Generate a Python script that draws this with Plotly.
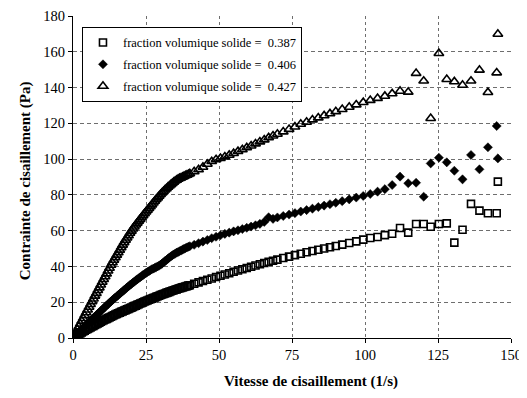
import plotly.graph_objects as go

shear_rate = [
    0, 0.5, 1, 1.5, 2, 2.5, 3, 3.5, 4, 4.5,
    5, 5.5, 6, 6.5, 7, 7.5, 8, 8.5, 9, 9.5,
    10, 10.5, 11, 11.5, 12, 12.5, 13, 13.5, 14, 14.5,
    15, 15.5, 16, 16.5, 17, 17.5, 18, 18.5, 19, 19.5,
    20, 20.5, 21, 21.5, 22, 22.5, 23, 23.5, 24, 24.5,
    25, 25.5, 26, 26.5, 27, 27.5, 28, 28.5, 29, 29.5,
    30, 30.5, 31, 31.5, 32, 32.5, 33, 33.5, 34, 34.5,
    35, 35.5, 36, 36.5, 37, 37.5, 38, 38.5, 39, 39.5,
    40, 41.5, 43, 44.5, 46, 47.5, 49, 50.5, 52, 53.5,
    55, 56.5, 58, 59.5, 61, 62.5, 64, 65.5, 67, 68.5,
    70, 72, 74, 76, 78, 80, 82, 84, 86, 88,
    90, 92.2, 94.6, 97, 99.4, 101.8, 104.3, 106.8, 109.3, 112,
    114.8, 117.5, 120.1, 122.5, 125.3, 128, 130.6, 133.4, 136.3, 139.2,
    142.1, 145.1, 145.5,
]

stress_0387 = [
    0, 0.6, 1.1, 1.6, 2.1, 2.6, 3.1, 3.6, 4.1, 4.6,
    5, 5.5, 5.9, 6.4, 6.8, 7.3, 7.7, 8.2, 8.6, 9.1,
    9.5, 9.9, 10.3, 10.7, 11.1, 11.5, 11.9, 12.3, 12.7, 13.1,
    13.5, 13.8, 14.2, 14.6, 14.9, 15.3, 15.6, 16.0, 16.3, 16.7,
    17, 17.4, 17.8, 18.1, 18.5, 18.9, 19.3, 19.6, 20, 20.4,
    20.7, 21.0, 21.4, 21.7, 22, 22.3, 22.6, 23.0, 23.3, 23.6,
    24, 24.3, 24.6, 24.9, 25.2, 25.5, 25.8, 26.1, 26.4, 26.7,
    27, 27.2, 27.5, 27.8, 28, 28.3, 28.5, 28.8, 29, 29.3,
    29.5, 30.3, 31.1, 31.9, 32.6, 33.3, 34.1, 34.8, 35.5, 36.2,
    37, 37.7, 38.4, 39.1, 39.8, 40.5, 41.2, 41.9, 42.6, 43.2,
    43.8, 44.7, 45.5, 46.3, 47.1, 47.9, 48.6, 49.3, 50, 50.7,
    51.4, 52.2, 53.1, 54, 55, 55.9, 56.5, 57.5, 58.3, 61.5,
    58.9, 63.7, 63.7, 62.2, 63.7, 64.1, 53.3, 60.5, 75, 71.2,
    69.7, 69.7, 87.4,
]

stress_0406 = [
    0, 0.8, 1.6, 2.4, 3.2, 4, 4.8, 5.6, 6.4, 7.2,
    8, 8.8, 9.6, 10.4, 11.2, 12, 12.7, 13.5, 14.3, 15.1,
    15.8, 16.6, 17.4, 18.2, 18.9, 19.7, 20.4, 21.2, 21.9, 22.6,
    23.3, 24, 24.7, 25.4, 26.1, 26.8, 27.5, 28.2, 28.9, 29.6,
    30.2, 30.9, 31.5, 32.2, 32.8, 33.4, 34, 34.6, 35.2, 35.8,
    36.3, 36.9, 37.4, 37.9, 38.4, 38.8, 39.2, 39.6, 40, 40.5,
    41, 41.6, 42.3, 43, 43.6, 44.3, 45, 45.6, 46.2, 46.7,
    47.2, 47.7, 48.1, 48.5, 48.9, 49.4, 49.8, 50.2, 50.6, 51,
    51.3, 52.1, 53, 53.9, 54.8, 55.8, 56.6, 57.4, 58.2, 58.9,
    59.6, 60.2, 60.9, 61.6, 62.3, 63, 63.8, 64.9, 67.5, 66.6,
    67.4, 68.2, 69, 69.8, 70.7, 71.5, 72.3, 73.2, 74, 74.8,
    75.6, 76.5, 77.5, 78.5, 79.4, 80.5, 81.8, 83.2, 85.5, 90.2,
    86.5, 86.8, 79, 97.6, 100.8, 98.2, 93.5, 88.7, 102.3, 94.3,
    106.6, 118.5, 100.4,
]

stress_0427 = [
    0, 1.5, 3, 4.7, 6.3, 7.9, 9.5, 11, 12.6, 14.2,
    15.7, 17.3, 18.8, 20.3, 21.9, 23.5, 25, 26.6, 28.1, 29.7,
    31.2, 32.8, 34.3, 35.9, 37.5, 39.1, 40.7, 42.1, 43.5, 45,
    46.4, 47.8, 49.2, 50.6, 52, 53.4, 54.7, 56, 57.3, 58.6,
    59.8, 61, 62.1, 63.2, 64.3, 65.4, 66.4, 67.5, 68.5, 69.5,
    70.5, 71.5, 72.5, 73.5, 74.5, 75.5, 76.5, 77.5, 78.4, 79.4,
    80.3, 81.2, 82, 82.8, 83.6, 84.4, 85.1, 85.8, 86.5, 87.2,
    87.8, 88.3, 88.8, 89.2, 89.6, 90, 90.4, 90.8, 91.1, 91.5,
    91.9, 93, 94.2, 95.5, 97.2, 98.7, 99.8, 100.5, 101.3, 102.2,
    103.2, 104.3, 105.3, 106.4, 107.4, 108.6, 109.7, 110.8, 112, 113,
    114, 115.3, 116.7, 118, 119.6, 120.7, 122, 123.1, 124.3, 125.4,
    126.6, 127.8, 129.1, 130.4, 131.7, 132.9, 134, 135.2, 136.6, 138,
    137.5, 148, 143.7, 122.8, 159.1, 144.6, 143.3, 141.4, 143.7, 149.8,
    137.3, 148.3, 169.9,
]

series_names = [
    "fraction volumique solide =  0.387",
    "fraction volumique solide =  0.406",
    "fraction volumique solide =  0.427",
]

assert len(shear_rate) == len(stress_0387) == len(stress_0406) == len(stress_0427)

x_ticks = [0, 25, 50, 75, 100, 125, 150]
y_ticks = [0, 20, 40, 60, 80, 100, 120, 140, 160, 180]
x_title = "Vitesse de cisaillement (1/s)"
y_title = "Contrainte de cisaillement (Pa)"

FONT = "Liberation Serif, Times New Roman, serif"
GRID = "#6e6e6e"

fig = go.Figure()
fig.add_trace(go.Scatter(
    x=shear_rate, y=stress_0387, mode="markers", name=series_names[0], legendgroup="a",
    marker=dict(symbol="square-open", size=7, color="black", line=dict(width=1.6, color="black")),
))
fig.add_trace(go.Scatter(
    x=shear_rate, y=stress_0406, mode="markers", name=series_names[1], legendgroup="b",
    marker=dict(symbol="diamond", size=7, color="black", line=dict(width=0.5, color="black")),
))
fig.add_trace(go.Scatter(
    x=shear_rate, y=stress_0427, mode="markers", name=series_names[2], legendgroup="c",
    marker=dict(symbol="triangle-up-open", size=8.5, color="black", line=dict(width=1.6, color="black")),
))

fig.update_layout(
    width=519, height=390,
    margin=dict(l=65, r=16, t=8, b=60, autoexpand=False),
    paper_bgcolor="white", plot_bgcolor="white",
    font=dict(family=FONT, size=14.5, color="black"),
    showlegend=True,
    legend=dict(
        x=0.0205, y=0.966, xanchor="left", yanchor="top",
        bgcolor="white", bordercolor="black", borderwidth=1,
        font=dict(family=FONT, size=12.5, color="black"),
        itemwidth=30, tracegroupgap=2.5,
    ),
    xaxis=dict(
        range=[0, 150], tickvals=x_ticks, ticktext=[str(v) for v in x_ticks],
        showgrid=True, gridcolor=GRID, griddash="3px,3px", gridwidth=1,
        showline=True, linecolor="black", linewidth=1,
        ticks="outside", ticklen=4, tickcolor="black",
        zeroline=False, automargin=False,
        tickfont=dict(family=FONT, size=14.5),
    ),
    yaxis=dict(
        range=[0, 180], tickvals=y_ticks, ticktext=[str(v) for v in y_ticks],
        showgrid=True, gridcolor=GRID, griddash="4px,3px", gridwidth=1,
        showline=True, linecolor="black", linewidth=1,
        ticks="outside", ticklen=4, tickcolor="black",
        zeroline=False, automargin=False,
        tickfont=dict(family=FONT, size=14.5),
    ),
    annotations=[
        dict(text="<b>" + x_title + "</b>", xref="paper", yref="paper",
             x=0.543, y=-0.134, xanchor="center", yanchor="middle", showarrow=False,
             font=dict(family=FONT, size=15, color="black")),
        dict(text="<b>" + y_title + "</b>", xref="paper", yref="paper",
             x=-0.1096, y=0.49, xanchor="center", yanchor="middle", showarrow=False,
             textangle=-90, font=dict(family=FONT, size=15, color="black")),
    ],
)

fig.write_html("out.html")
